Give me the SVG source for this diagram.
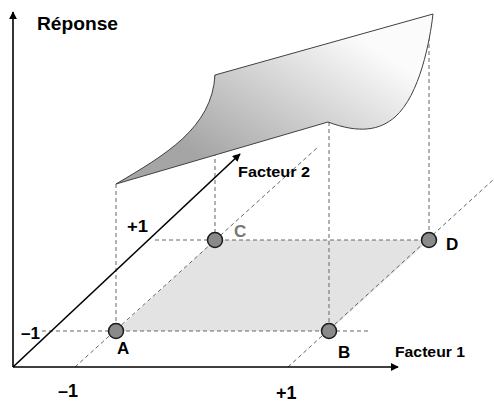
<svg xmlns="http://www.w3.org/2000/svg" width="494" height="403" viewBox="0 0 494 403">
<style>
.ax{stroke:#000;stroke-width:1.6;fill:none}
.dash{stroke:#666;stroke-width:1;stroke-dasharray:4 3;fill:none}
.pt{fill:#8a8a8a;stroke:#1a1a1a;stroke-width:1.5}
.lb{font-family:"Liberation Sans",Arial,sans-serif;font-weight:bold;fill:#000}
</style>
<defs>
<marker id="arr" viewBox="0 0 10 10" refX="9" refY="5" markerWidth="8" markerHeight="8" markerUnits="userSpaceOnUse" orient="auto">
<path d="M0,0 L10,5 L0,10 z" fill="#000"/>
</marker>
<linearGradient id="sg" gradientUnits="userSpaceOnUse" x1="330" y1="20" x2="230" y2="175">
<stop offset="0" stop-color="#fbfbfb"/>
<stop offset="1" stop-color="#a5a5a5"/>
</linearGradient>
</defs>
<g id="plane">
<path d="M116,331 L329,331 L429,240 L215,240 Z" fill="#e3e3e3"/>
</g>
<g id="connectors">
<line class="dash" x1="42" y1="331" x2="368" y2="331"/>
<line class="dash" x1="155" y1="240" x2="429" y2="240"/>
<line class="dash" x1="75" y1="367" x2="318" y2="147"/>
<line class="dash" x1="288" y1="367" x2="494" y2="179"/>
<line class="dash" x1="116" y1="184" x2="116" y2="331"/>
<line class="dash" x1="215" y1="75" x2="215" y2="240"/>
<line class="dash" x1="329" y1="122" x2="329" y2="331"/>
<line class="dash" x1="429" y1="30" x2="429" y2="240"/>
<line class="ax" x1="13" y1="367" x2="13" y2="12" marker-end="url(#arr)"/>
<line class="ax" x1="13" y1="367" x2="398" y2="367" marker-end="url(#arr)"/>
<line class="ax" x1="13" y1="367" x2="240" y2="154" marker-end="url(#arr)"/>
</g>
<g id="surface">
<path d="M116,184 C165,155 212,128 215,75 L433,14 C430,40 420,95 395,117 C380,130 360,134 328,122 Z" fill="url(#sg)" stroke="#404040" stroke-width="1"/>
</g>
<g id="A"><circle class="pt" cx="116" cy="331" r="7.5"/><text class="lb" x="117" y="354" font-size="17">A</text></g>
<g id="B"><circle class="pt" cx="329" cy="331" r="7.5"/><text class="lb" x="338" y="358" font-size="17">B</text></g>
<g id="C"><circle class="pt" cx="215" cy="240" r="7.5"/><text class="lb" x="234" y="237" font-size="17" style="fill:#777">C</text></g>
<g id="D"><circle class="pt" cx="429" cy="240" r="7.5"/><text class="lb" x="446" y="250" font-size="17">D</text></g>
<g id="labels">
<text class="lb" x="37" y="30" font-size="18" textLength="81" lengthAdjust="spacingAndGlyphs">Réponse</text>
<text class="lb" x="238" y="177" font-size="14" textLength="72" lengthAdjust="spacingAndGlyphs">Facteur 2</text>
<text class="lb" x="395" y="357" font-size="14" textLength="70" lengthAdjust="spacingAndGlyphs">Facteur 1</text>
<text class="lb" x="127" y="232" font-size="17" textLength="21" lengthAdjust="spacingAndGlyphs">+1</text>
<text class="lb" x="21" y="339" font-size="16" textLength="19" lengthAdjust="spacingAndGlyphs">–1</text>
<text class="lb" x="58" y="397" font-size="18">–1</text>
<text class="lb" x="276" y="399" font-size="18">+1</text>
</g>
</svg>
